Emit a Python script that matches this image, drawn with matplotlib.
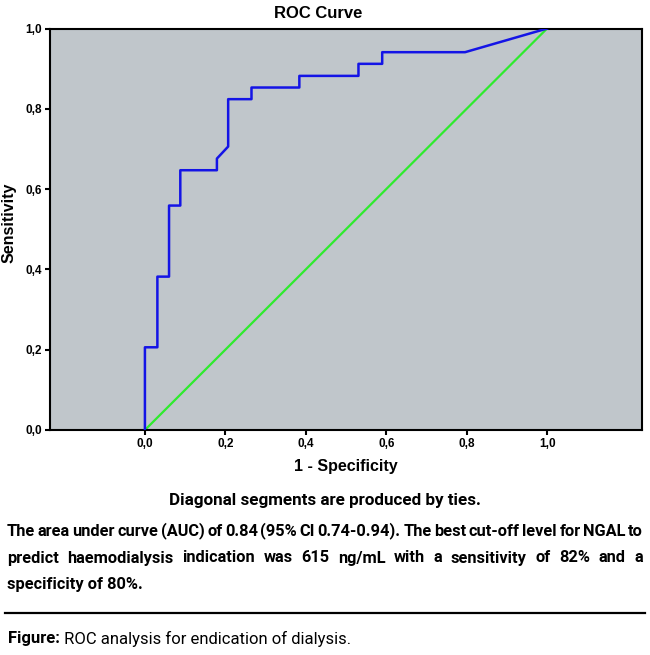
import matplotlib
matplotlib.use('Agg')
import matplotlib.pyplot as plt

# ROC points (1 - specificity, sensitivity)
fpr = [0.0, 0.0, 0.031, 0.031, 0.060, 0.060, 0.088, 0.088, 0.179, 0.179, 0.207, 0.207,
       0.265, 0.265, 0.384, 0.384, 0.531, 0.531, 0.590, 0.590, 0.796, 1.0]
tpr = [0.0, 0.206, 0.206, 0.382, 0.382, 0.559, 0.559, 0.647, 0.647, 0.676, 0.706, 0.824,
       0.824, 0.853, 0.853, 0.882, 0.882, 0.912, 0.912, 0.941, 0.941, 1.0]
ref_x = [0.0, 1.0]
ref_y = [0.0, 1.0]
ticks = [0.0, 0.2, 0.4, 0.6, 0.8, 1.0]
tick_labels = ['0,0', '0,2', '0,4', '0,6', '0,8', '1,0']

title = 'ROC Curve'
xlab = '1 - Specificity'
ylab = 'Sensitivity'
note = 'Diagonal segments are produced by ties.'
para = ['The area under curve (AUC) of 0.84 (95% CI 0.74-0.94). The best cut-off level for NGAL to',
        'predict haemodialysis indication was 615 ng/mL with a sensitivity of 82% and a',
        'specificity of 80%.']
cap_bold = 'Figure:'
cap_rest = ' ROC analysis for endication of dialysis.'

W, H = 650, 655
narrow = ['Roboto', 'DejaVu Sans']
plt.rcParams['font.family'] = ['Liberation Sans', 'DejaVu Sans']

fig = plt.figure(figsize=(W / 100, H / 100), dpi=100)

def fx(x):
    return x / W

def fy(y):
    return 1 - y / H

ax = fig.add_axes([fx(50), fy(430), fx(642) - fx(50), fy(28.5) - fy(430)])
ax.set_facecolor('#C0C6CB')
ax.plot(ref_x, ref_y, color='#2EEB2E', lw=1.6, zorder=2)
ax.plot(fpr, tpr, color='#1414E6', lw=1.8, zorder=3)
ax.set_xlim(-0.236, 1.236)
ax.set_ylim(0, 1)
ax.set_xticks(ticks)
ax.set_xticklabels(tick_labels)
ax.set_yticks(ticks)
ax.set_yticklabels(tick_labels)
for s in ax.spines.values():
    s.set_linewidth(1.5)
ax.tick_params(direction='out', length=3.5, width=1.5, labelsize=8.5, pad=2)
for t in ax.get_xticklabels() + ax.get_yticklabels():
    t.set_fontweight('bold')
fig.text(fx(318), fy(14), title, fontsize=12, fontweight='bold', ha='center', va='center')
ax.set_xlabel(xlab, fontsize=11.5, fontweight='bold', labelpad=7)
ax.set_ylabel(ylab, fontsize=11.5, fontweight='bold')
ax.yaxis.set_label_coords(-0.056, 0.515)

renderer = fig.canvas.get_renderer()

def width_of(s, fs, weight='bold'):
    t = fig.text(0, 0, s, family=narrow, fontsize=fs, fontweight=weight)
    w = t.get_window_extent(renderer).width
    t.remove()
    return w

# pick a paragraph size so the first line fits between the margins
x0, x1 = 7, 643
fs = 12.0
while fs > 7:
    ws = [width_of(w, fs) for w in para[0].split(' ')]
    if sum(ws) + 0.2 * fs * (len(ws) - 1) <= x1 - x0:
        break
    fs -= 0.25

fig.text(fx(325), fy(501), note, family=narrow, fontsize=fs + 0.5, fontweight='bold',
         ha='center', va='center')

# justified paragraph
line_y = [531, 558, 585]
for i, line in enumerate(para):
    words = line.split(' ')
    if i == len(para) - 1:
        fig.text(fx(x0), fy(line_y[i]), line, family=narrow, fontsize=fs,
                 fontweight='bold', ha='left', va='center')
        continue
    objs = [fig.text(0, fy(line_y[i]), w, family=narrow, fontsize=fs,
                     fontweight='bold', ha='left', va='center') for w in words]
    widths = [o.get_window_extent(renderer).width for o in objs]
    gap = (x1 - x0 - sum(widths)) / (len(words) - 1)
    xpos = x0
    for o, wd in zip(objs, widths):
        o.set_x(fx(xpos))
        xpos += wd + gap

fig.add_artist(plt.Line2D([fx(5), fx(645)], [fy(613), fy(613)], color='black', lw=1.6))

t1 = fig.text(fx(8), fy(639), cap_bold, family=narrow, fontsize=12, fontweight='bold',
              ha='left', va='center')
wb = t1.get_window_extent(renderer).width
fig.text(fx(8 + wb), fy(639), cap_rest, family=narrow, fontsize=12,
         ha='left', va='center')

fig.savefig('out.png', dpi=100)
